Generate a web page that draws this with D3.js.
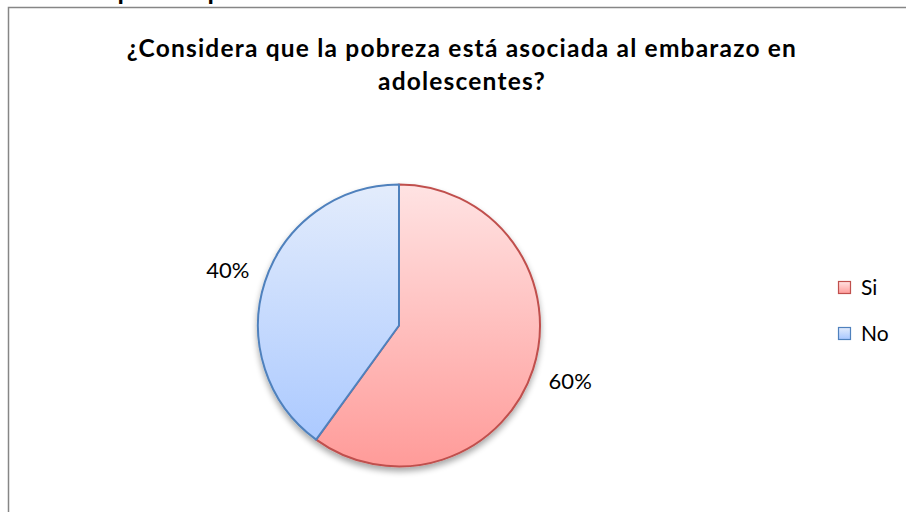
<!DOCTYPE html>
<html>
<head>
<meta charset="utf-8">
<script src="https://cdn.jsdelivr.net/npm/d3@7"></script>
<style>
  html, body { margin: 0; padding: 0; background: #fff; }
  svg { display: block; }
  text { font-family: Lato, "Open Sans", sans-serif; }
</style>
</head>
<body>
<div id="chart"></div>
<script>
// datos
let categorias = ['Si', 'No'];
let valores = [60, 40];
let etiquetas = ['60%', '40%'];
let titulo = ['¿Considera que la pobreza está asociada al embarazo en', 'adolescentes?'];

let width = 906, height = 512;

let svg = d3.select('#chart').append('svg')
    .attr('width', width)
    .attr('height', height);

let defs = svg.append('defs');

// degradados de relleno
let colores = {
    Si: { top: '#ffe3e3', bottom: '#ff9b99', stroke: '#c0504d' },
    No: { top: '#e3ecfc', bottom: '#a6c6ff', stroke: '#4f81bd' }
};

categorias.forEach(function(c) {
    let g = defs.append('linearGradient')
        .attr('id', 'grad-' + c)
        .attr('gradientUnits', 'userSpaceOnUse')
        .attr('x1', 0).attr('y1', -141).attr('x2', 0).attr('y2', 141);
    g.append('stop').attr('offset', '0%').attr('stop-color', colores[c].top);
    g.append('stop').attr('offset', '100%').attr('stop-color', colores[c].bottom);
    let lg = defs.append('linearGradient')
        .attr('id', 'leg-' + c)
        .attr('x1', 0).attr('y1', 0).attr('x2', 0).attr('y2', 1);
    lg.append('stop').attr('offset', '0%').attr('stop-color', colores[c].top);
    lg.append('stop').attr('offset', '100%').attr('stop-color', colores[c].bottom);
});

let sombra = defs.append('filter').attr('id', 'sombra')
    .attr('x', '-20%').attr('y', '-20%').attr('width', '140%').attr('height', '140%');
sombra.append('feGaussianBlur').attr('in', 'SourceAlpha').attr('stdDeviation', 3);
sombra.append('feOffset').attr('dx', 0).attr('dy', 4).attr('result', 'b');
sombra.append('feComponentTransfer').append('feFuncA').attr('type', 'linear').attr('slope', 0.35);
let merge = sombra.append('feMerge');
merge.append('feMergeNode');
merge.append('feMergeNode').attr('in', 'SourceGraphic');

// marco del gráfico
svg.append('rect')
    .attr('x', 8.5).attr('y', 7.5)
    .attr('width', 1000).attr('height', 1000)
    .attr('fill', '#fff')
    .attr('stroke', '#868686')
    .attr('stroke-width', 1.5);

// texto cortado del documento de arriba (solo se ven los trazos inferiores)
svg.append('text').attr('x', 117.5).attr('y', -0.5)
    .attr('font-weight', 'bold').attr('font-size', 26).text('p');
svg.append('text').attr('x', 207.5).attr('y', -0.5)
    .attr('font-weight', 'bold').attr('font-size', 26).text('p');

// título
svg.append('g').selectAll('text')
    .data(titulo)
    .enter()
    .append('text')
    .attr('x', 462)
    .attr('y', function(d, i) { return 57 + i * 33; })
    .attr('text-anchor', 'middle')
    .attr('font-weight', 'bold')
    .attr('font-size', 24.5)
    .attr('letter-spacing', 1.2)
    .attr('fill', '#000')
    .text(function(d) { return d; });

// tarta
let r = 141;
let cx = 399, cy = 325.5;

let pie = d3.pie().sort(null).value(function(d) { return d.v; });
let arc = d3.arc().innerRadius(0).outerRadius(r);
let datos = categorias.map(function(c, i) { return { c: c, v: valores[i], l: etiquetas[i] }; });

let pieG = svg.append('g')
    .attr('transform', 'translate(' + cx + ',' + cy + ')');

pieG.append('g').attr('filter', 'url(#sombra)')
    .selectAll('path')
    .data(pie(datos))
    .enter()
    .append('path')
    .attr('d', arc)
    .attr('fill', function(d) { return 'url(#grad-' + d.data.c + ')'; })
    .attr('stroke', function(d) { return colores[d.data.c].stroke; })
    .attr('stroke-width', 2)
    .attr('stroke-linejoin', 'round');

// etiquetas de porcentaje
let labelArc = d3.arc().innerRadius(r + 39).outerRadius(r + 39);
pieG.selectAll('.lbl')
    .data(pie(datos))
    .enter()
    .append('text')
    .attr('class', 'lbl')
    .attr('transform', function(d) {
        let p = labelArc.centroid(d);
        return 'translate(' + p[0] + ',' + p[1] + ')';
    })
    .attr('text-anchor', 'middle')
    .attr('dy', '0.35em')
    .attr('font-size', 22)
    .attr('fill', '#000')
    .text(function(d) { return d.data.l; });

// leyenda
let leg = svg.append('g').attr('transform', 'translate(838,281)');
let ly = d3.scaleBand().domain(categorias).range([0, 92]);
let item = leg.selectAll('g')
    .data(categorias)
    .enter()
    .append('g')
    .attr('transform', function(d) { return 'translate(0,' + ly(d) + ')'; });
item.append('rect')
    .attr('x', 0.5).attr('y', 0.5)
    .attr('width', 12).attr('height', 12)
    .attr('fill', function(d) { return 'url(#leg-' + d + ')'; })
    .attr('stroke', function(d) { return colores[d].stroke; })
    .attr('stroke-width', 1.2);
item.append('text')
    .attr('x', 23).attr('y', 7)
    .attr('dy', '0.35em')
    .attr('font-size', 21)
    .attr('fill', '#000')
    .text(function(d) { return d; });
</script>
</body>
</html>
